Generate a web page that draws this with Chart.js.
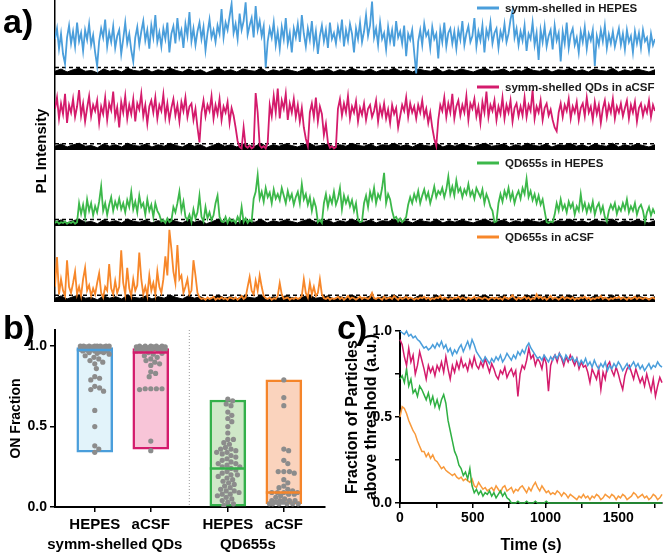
<!DOCTYPE html>
<html><head><meta charset="utf-8">
<script src="https://cdn.jsdelivr.net/npm/chart.js@4.4.1/dist/chart.umd.min.js"></script>
<style>
html,body{margin:0;padding:0;background:#fff;}
#wrap{position:relative;width:663px;height:559px;overflow:hidden;font-family:'Liberation Sans',Arial,sans-serif;background:#fff;}
canvas{position:absolute;}
.lab{position:absolute;font-weight:bold;font-size:34px;line-height:1;color:#000;}
#pl{position:absolute;left:40px;top:151px;transform:translate(-50%,-50%) rotate(-90deg);font-weight:bold;font-size:15px;white-space:nowrap;color:#000;}
</style></head><body>
<div id="wrap">
<canvas id="a1" width="663" height="75" style="left:0;top:0"></canvas>
<canvas id="a2" width="663" height="75" style="left:0;top:75px"></canvas>
<canvas id="a3" width="663" height="76" style="left:0;top:150px"></canvas>
<canvas id="a4" width="663" height="76" style="left:0;top:226px"></canvas>
<canvas id="b" width="335" height="254" style="left:0;top:305px"></canvas>
<canvas id="c" width="328" height="254" style="left:335px;top:305px"></canvas>
<div class="lab" style="left:3px;top:4px">a)</div>
<div class="lab" style="left:3px;top:310px">b)</div>
<div class="lab" style="left:337px;top:310px">c)</div>
<div id="pl">PL Intensity</div>
</div>
<script>
// ---------- DATA ----------
// Panel a: single-particle PL traces (relative intensity, 0 = bottom of sub-panel)
const traceLabels = ['symm-shelled in HEPES','symm-shelled QDs in aCSF','QD655s in HEPES','QD655s in aCSF'];
const blueTrace = [
0.48,0.62,0.35,0.55,0.28,0.15,0.5,0.66,0.42,0.58,0.38,0.7,0.45,0.56,0.32,0.6,0.47,0.68,0.4,0.53,
0.3,0.12,0.45,0.62,0.5,0.74,0.38,0.57,0.44,0.65,0.36,0.52,0.6,0.28,0.48,0.7,0.42,0.55,0.33,0.18,
0.5,0.64,0.4,0.58,0.72,0.46,0.6,0.35,0.66,0.5,0.8,0.44,0.57,0.38,0.62,0.48,0.7,0.3,0.55,0.65,
0.42,0.76,0.5,0.6,0.36,0.68,0.52,0.84,0.45,0.62,0.4,0.58,0.7,0.48,0.64,0.33,0.56,0.74,0.5,0.6,
0.44,0.66,0.55,0.88,0.5,0.7,0.6,0.78,0.95,0.56,0.68,0.48,0.82,0.6,0.72,0.97,0.54,0.66,0.76,0.5,
0.92,0.6,0.72,0.52,0.65,0.1,0.45,0.62,0.5,0.7,0.4,0.58,0.35,0.64,0.48,0.76,0.42,0.56,0.3,0.62,
0.5,0.68,0.44,0.8,0.55,0.38,0.62,0.47,0.72,0.4,0.58,0.28,0.52,0.66,0.45,0.6,0.36,0.7,0.48,0.56,
0.42,0.64,0.5,0.74,0.38,0.6,0.46,0.68,0.55,0.3,0.62,0.48,0.7,0.44,0.58,0.8,0.52,0.66,0.98,0.5,
0.62,0.4,0.7,0.48,0.56,0.34,0.64,0.45,0.6,0.38,0.72,0.5,0.58,0.42,0.66,0.25,0.55,0.47,0.6,0.3,
0.02,0.45,0.6,0.4,0.68,0.52,0.58,0.36,0.64,0.48,0.55,0.22,0.6,0.44,0.7,0.38,0.56,0.62,0.42,0.58,
0.35,0.6,0.47,0.72,0.4,0.55,0.65,0.44,0.52,0.76,0.38,0.58,0.46,0.66,0.3,0.6,0.5,0.7,0.42,0.56,
0.62,0.36,0.58,0.48,0.68,0.44,0.55,0.74,0.86,0.5,0.62,0.4,0.58,0.46,0.66,0.32,0.55,0.48,0.7,0.4,
0.56,0.2,0.6,0.44,0.65,0.38,0.52,0.6,0.34,0.66,0.46,0.56,0.18,0.58,0.42,0.7,0.36,0.54,0.62,0.4,
0.5,0.3,0.58,0.44,0.64,0.35,0.55,0.46,0.6,0.12,0.52,0.4,0.6,0.45,0.66,0.36,0.54,0.42,0.58,0.38,
0.5,0.62,0.4,0.55,0.34,0.6,0.44,0.52,0.3,0.58,0.42,0.56,0.36,0.6,0.45,0.5,0.32,0.55,0.4,0.48];
const pinkTrace = [
0.55,0.7,0.42,0.62,0.48,0.75,0.36,0.6,0.5,0.68,0.44,0.58,0.8,0.46,0.62,0.38,0.56,0.72,0.45,0.6,
0.52,0.66,0.36,0.58,0.48,0.7,0.4,0.62,0.53,0.78,0.44,0.57,0.3,0.64,0.5,0.72,0.42,0.6,0.48,0.68,
0.38,0.62,0.54,0.75,0.45,0.6,0.35,0.58,0.66,0.5,0.7,0.42,0.6,0.52,0.74,0.44,0.62,0.4,0.56,0.68,
0.46,0.6,0.38,0.64,0.52,0.7,0.44,0.58,0.62,0.4,0.55,0.3,0.1,0.5,0.66,0.45,0.6,0.52,0.72,0.42,
0.6,0.48,0.68,0.4,0.58,0.5,0.64,0.36,0.56,0.46,0.3,0.12,0.04,0.02,0.3,0.05,0.03,0.06,0.02,0.04,
0.76,0.5,0.06,0.03,0.05,0.02,0.1,0.6,0.45,0.72,0.5,0.82,0.42,0.66,0.55,0.75,0.4,0.62,0.5,0.68,
0.44,0.6,0.38,0.56,0.3,0.15,0.05,0.5,0.62,0.44,0.7,0.38,0.58,0.48,0.2,0.35,0.1,0.03,0.05,0.02,
0.04,0.55,0.68,0.46,0.62,0.5,0.72,0.42,0.58,0.5,0.65,0.38,0.56,0.47,0.62,0.4,0.55,0.6,0.44,0.52,
0.66,0.38,0.58,0.46,0.62,0.42,0.54,0.36,0.6,0.48,0.56,0.3,0.45,0.6,0.52,0.7,0.44,0.62,0.5,0.58,
0.42,0.6,0.5,0.66,0.45,0.55,0.36,0.5,0.3,0.15,0.05,0.4,0.6,0.52,0.7,0.44,0.62,0.5,0.75,0.42,
0.58,0.66,0.46,0.6,0.5,0.72,0.4,0.62,0.55,0.68,0.45,0.58,0.36,0.64,0.5,0.78,0.44,0.6,0.52,0.66,
0.4,0.58,0.48,0.7,0.42,0.6,0.5,0.66,0.38,0.56,0.62,0.45,0.58,0.46,0.7,0.44,0.6,0.52,0.8,0.42,
0.58,0.5,0.66,0.4,0.56,0.62,0.46,0.54,0.4,0.3,0.25,0.5,0.62,0.44,0.6,0.52,0.68,0.42,0.58,0.5,
0.64,0.4,0.56,0.62,0.45,0.7,0.5,0.58,0.4,0.64,0.48,0.6,0.36,0.55,0.66,0.44,0.6,0.5,0.68,0.42,
0.58,0.5,0.62,0.45,0.56,0.66,0.42,0.6,0.5,0.64,0.38,0.56,0.62,0.46,0.58,0.5,0.66,0.44,0.6,0.52];
const greenTrace = [
0.04,0.06,0.03,0.05,0.04,0.06,0.03,0.05,0.04,0.06,0.03,0.05,0.3,0.16,0.28,0.12,0.35,0.2,0.3,0.14,
0.26,0.18,0.32,0.52,0.2,0.3,0.15,0.28,0.38,0.2,0.32,0.24,0.36,0.22,0.3,0.18,0.34,0.25,0.45,0.22,
0.32,0.18,0.4,0.25,0.3,0.15,0.35,0.2,0.28,0.12,0.3,0.2,0.15,0.06,0.08,0.04,0.1,0.05,0.07,0.25,
0.18,0.3,0.45,0.2,0.32,0.12,0.08,0.15,0.05,0.22,0.1,0.18,0.4,0.12,0.06,0.25,0.1,0.18,0.08,0.14,
0.3,0.4,0.12,0.06,0.05,0.12,0.04,0.1,0.06,0.08,0.04,0.12,0.06,0.25,0.05,0.1,0.04,0.08,0.06,0.36,
0.45,0.67,0.36,0.45,0.32,0.5,0.38,0.44,0.3,0.48,0.36,0.42,0.34,0.5,0.4,0.3,0.46,0.35,0.42,0.28,
0.38,0.45,0.3,0.55,0.35,0.42,0.28,0.38,0.2,0.34,0.25,0.05,0.08,0.04,0.3,0.42,0.25,0.38,0.3,0.45,
0.28,0.36,0.5,0.22,0.4,0.3,0.38,0.26,0.34,0.2,0.3,0.08,0.05,0.06,0.3,0.4,0.25,0.45,0.35,0.5,
0.3,0.42,0.36,0.5,0.7,0.3,0.42,0.35,0.2,0.1,0.12,0.06,0.1,0.05,0.08,0.12,0.28,0.38,0.3,0.42,
0.34,0.46,0.3,0.4,0.48,0.36,0.44,0.3,0.4,0.52,0.38,0.46,0.42,0.5,0.38,0.48,0.65,0.42,0.52,0.4,
0.6,0.45,0.5,0.38,0.48,0.42,0.55,0.4,0.46,0.36,0.5,0.44,0.38,0.48,0.3,0.42,0.35,0.25,0.2,0.05,
0.06,0.3,0.42,0.32,0.46,0.38,0.5,0.35,0.44,0.3,0.4,0.46,0.36,0.5,0.42,0.62,0.38,0.46,0.34,0.42,
0.3,0.4,0.28,0.35,0.2,0.05,0.04,0.06,0.05,0.15,0.3,0.2,0.35,0.22,0.28,0.18,0.32,0.24,0.3,0.15,
0.26,0.2,0.42,0.22,0.3,0.18,0.28,0.2,0.32,0.15,0.25,0.3,0.18,0.26,0.12,0.06,0.2,0.28,0.22,0.3,
0.16,0.25,0.2,0.3,0.22,0.35,0.18,0.26,0.2,0.3,0.15,0.24,0.28,0.2,0.06,0.18,0.25,0.14,0.22,0.16];
const orangeTrace = [
0.2,0.59,0.1,0.3,0.15,0.08,0.55,0.2,0.12,0.25,0.4,0.1,0.2,0.08,0.3,0.45,0.15,0.22,0.08,0.18,
0.1,0.25,0.38,0.12,0.06,0.2,0.15,0.5,0.18,0.1,0.28,0.12,0.2,0.68,0.25,0.1,0.45,0.18,0.08,0.3,
0.15,0.22,0.65,0.3,0.1,0.2,0.08,0.35,0.15,0.25,0.1,0.4,0.2,0.12,0.3,0.6,0.35,0.95,0.7,0.4,
0.25,0.75,0.3,0.35,0.12,0.2,0.3,0.1,0.15,0.55,0.35,0.12,0.06,0.04,0.05,0.03,0.06,0.04,0.05,0.07,
0.03,0.05,0.04,0.06,0.04,0.05,0.03,0.06,0.05,0.04,0.06,0.03,0.05,0.08,0.04,0.06,0.2,0.33,0.15,0.1,
0.28,0.15,0.35,0.2,0.08,0.05,0.04,0.06,0.03,0.05,0.04,0.08,0.25,0.1,0.04,0.05,0.06,0.03,0.05,0.04,
0.06,0.04,0.05,0.08,0.3,0.12,0.06,0.25,0.1,0.2,0.08,0.12,0.3,0.1,0.05,0.04,0.06,0.03,0.05,0.04,
0.05,0.07,0.04,0.06,0.03,0.05,0.08,0.04,0.06,0.05,0.03,0.05,0.07,0.04,0.06,0.05,0.04,0.06,0.12,0.05,
0.04,0.06,0.05,0.03,0.07,0.04,0.05,0.06,0.04,0.08,0.05,0.03,0.06,0.04,0.05,0.07,0.04,0.06,0.05,0.03,
0.05,0.04,0.06,0.05,0.07,0.04,0.06,0.03,0.05,0.04,0.06,0.05,0.08,0.04,0.06,0.05,0.03,0.05,0.04,0.06,
0.05,0.07,0.04,0.06,0.05,0.03,0.06,0.04,0.05,0.07,0.04,0.06,0.05,0.04,0.06,0.05,0.03,0.05,0.06,0.04,
0.06,0.04,0.05,0.03,0.07,0.05,0.04,0.06,0.09,0.05,0.03,0.06,0.04,0.05,0.07,0.04,0.06,0.03,0.05,0.04,
0.1,0.05,0.07,0.04,0.06,0.03,0.05,0.08,0.04,0.06,0.05,0.03,0.05,0.07,0.04,0.06,0.05,0.04,0.06,0.03,
0.05,0.04,0.06,0.05,0.07,0.04,0.06,0.03,0.05,0.04,0.06,0.05,0.08,0.04,0.06,0.05,0.03,0.05,0.04,0.06,
0.05,0.07,0.04,0.06,0.05,0.03,0.06,0.04,0.05,0.07,0.04,0.06,0.05,0.04,0.06,0.05,0.03,0.05,0.06,0.04];
const backgroundTrace = [0.05,0.08,0.04,0.07,0.09,0.05,0.06,0.03,0.08,0.05,0.07,0.04,0.09,0.06,0.05,0.08,0.04,0.07,0.05,0.09,
0.06,0.04,0.08,0.05,0.07,0.03,0.06,0.09,0.05,0.07,0.04,0.08,0.06,0.05,0.09,0.04,0.07,0.05,0.08,0.06,
0.04,0.07,0.09,0.05,0.06,0.08,0.04,0.07,0.05,0.09,0.06,0.05,0.08,0.04,0.07,0.06,0.09,0.05,0.07,0.04,
0.08,0.06,0.05,0.09,0.04,0.07,0.05,0.08,0.06,0.04,0.07,0.09,0.05,0.06,0.08,0.04,0.07,0.05,0.09,0.06,
0.05,0.08,0.04,0.07,0.06,0.09,0.05,0.07,0.04,0.08,0.06,0.05,0.09,0.04,0.07,0.05,0.08,0.06,0.04,0.07];
const thresholds = [0.1,0.085,0.085,0.09];

// Panel b: ON fraction per particle
const bCategories = ['HEPES','aCSF','HEPES','aCSF'];
const bGroups = ['symm-shelled QDs','QD655s'];
const bMin = [0.34,0.36,0.0,0.02];
const bMax = [0.99,0.985,0.665,0.79];
const bMedian = [0.975,0.96,0.24,0.09];
const onSymmHEPES = [1,1,1,1,1,1,1,1,0.995,0.995,0.995,0.995,0.99,0.99,0.99,0.99,0.99,0.99,0.985,0.985,0.985,0.98,0.98,0.98,0.98,0.975,0.975,0.97,0.97,0.97,0.965,0.96,0.96,0.955,0.95,0.94,0.93,0.92,0.91,0.9,0.89,0.86,0.81,0.8,0.79,0.75,0.74,0.73,0.72,0.6,0.5,0.38,0.36,0.34];
const onSymmACSF = [1,1,1,1,1,0.995,0.995,0.995,0.99,0.99,0.99,0.99,0.985,0.985,0.98,0.98,0.98,0.975,0.97,0.97,0.96,0.955,0.95,0.94,0.93,0.92,0.91,0.9,0.89,0.88,0.84,0.83,0.81,0.735,0.735,0.735,0.735,0.73,0.41,0.35];
const onQDHEPES = [0.67,0.66,0.64,0.63,0.59,0.57,0.55,0.53,0.5,0.46,0.42,0.42,0.4,0.39,0.37,0.36,0.36,0.35,0.34,0.34,0.33,0.32,0.31,0.3,0.29,0.28,0.27,0.27,0.26,0.25,0.25,0.24,0.23,0.22,0.21,0.2,0.2,0.19,0.18,0.17,0.16,0.15,0.14,0.13,0.12,0.11,0.1,0.1,0.09,0.08,0.08,0.07,0.06,0.05,0.04,0.03,0.02,0.01];
const onQDACSF = [0.79,0.68,0.63,0.36,0.35,0.29,0.27,0.22,0.22,0.22,0.21,0.17,0.15,0.13,0.12,0.11,0.1,0.09,0.09,0.09,0.09,0.08,0.08,0.07,0.06,0.05,0.04,0.04,0.04,0.04,0.03,0.03,0.02,0.02,0.02,0.02,0.02,0.02];

// Panel c: fraction above threshold vs time (15 s steps)
const timeStep = 15;
const fracSymmHEPES = [1.0,0.99,0.98,1.0,0.97,0.98,0.96,0.97,0.95,0.94,0.92,
0.9,0.91,0.89,0.9,0.92,0.9,0.93,0.91,0.94,0.9,
0.92,0.88,0.9,0.86,0.89,0.87,0.9,0.92,0.88,0.91,
0.94,0.9,0.95,0.92,0.88,0.86,0.84,0.82,0.85,0.83,
0.81,0.84,0.82,0.85,0.83,0.86,0.82,0.84,0.87,0.85,
0.83,0.86,0.84,0.88,0.86,0.89,0.87,0.91,0.93,0.9,
0.88,0.86,0.84,0.85,0.83,0.86,0.84,0.82,0.85,0.83,
0.86,0.84,0.87,0.85,0.82,0.86,0.84,0.83,0.85,0.82,
0.84,0.8,0.83,0.81,0.84,0.8,0.82,0.79,0.83,0.8,
0.78,0.81,0.79,0.82,0.77,0.8,0.78,0.81,0.79,0.82,
0.8,0.77,0.79,0.81,0.78,0.8,0.82,0.79,0.81,0.78,
0.8,0.77,0.79,0.81,0.78,0.8,0.79,0.82,0.8,0.79];
const fracSymmACSF = [0.95,0.92,0.85,0.8,0.9,0.82,0.86,0.75,0.8,0.88,0.83,
0.78,0.72,0.8,0.76,0.79,0.74,0.8,0.77,0.82,0.76,
0.85,0.78,0.72,0.8,0.76,0.82,0.78,0.84,0.79,0.81,
0.77,0.83,0.79,0.85,0.8,0.78,0.82,0.79,0.84,0.8,
0.76,0.81,0.78,0.74,0.72,0.77,0.75,0.79,0.73,0.76,
0.78,0.74,0.77,0.62,0.75,0.8,0.78,0.83,0.9,0.84,
0.86,0.8,0.84,0.82,0.78,0.85,0.81,0.65,0.8,0.84,
0.86,0.82,0.87,0.84,0.8,0.85,0.82,0.86,0.83,0.8,
0.84,0.78,0.82,0.79,0.8,0.76,0.7,0.78,0.75,0.72,
0.78,0.66,0.76,0.72,0.8,0.82,0.77,0.74,0.79,0.75,
0.7,0.66,0.74,0.78,0.8,0.76,0.72,0.78,0.74,0.7,
0.73,0.68,0.75,0.7,0.65,0.72,0.62,0.68,0.73,0.7];
const fracQDHEPES = [0.72,0.74,0.7,0.78,0.68,0.72,0.64,0.66,0.62,0.68,0.66,
0.63,0.6,0.64,0.58,0.62,0.56,0.6,0.55,0.6,0.63,
0.58,0.48,0.42,0.36,0.3,0.27,0.22,0.2,0.16,0.18,
0.14,0.2,0.1,0.06,0.08,0.05,0.07,0.04,0.06,0.05,
0.07,0.04,0.06,0.03,0.05,0.07,0.04,0.06,0.03,0.02,
0.0,0.0,0.0,0.01,0.0,0.0,0.0,0.01,0.0,0.0,
0.0,0.01,0.0,0.0,0.0,0.0,0.01,0.0,0.0,0.0,
0.0,0.0,0.0,0.0,0.0,0.0,0.0,0.0,0.0,0.0,
0.0,0.0,0.0,0.0,0.0,0.0,0.0,0.0,0.0,0.0,
0.0,0.0,0.0,0.0,0.0,0.0,0.0,0.0,0.0,0.0,
0.0,0.0,0.0,0.0,0.0,0.0,0.0,0.0,0.0,0.0,
0.0,0.0,0.0,0.0,0.0,0.0,0.0,0.0,0.0,0.0];
const fracQDACSF = [0.5,0.56,0.55,0.52,0.48,0.45,0.42,0.4,0.36,0.33,0.3,
0.3,0.27,0.29,0.26,0.28,0.25,0.24,0.22,0.2,0.21,
0.19,0.18,0.17,0.16,0.17,0.15,0.14,0.15,0.13,0.14,
0.13,0.12,0.14,0.1,0.09,0.12,0.1,0.08,0.09,0.07,
0.08,0.09,0.07,0.1,0.08,0.06,0.09,0.1,0.07,0.08,
0.09,0.06,0.08,0.07,0.09,0.1,0.08,0.06,0.09,0.07,
0.1,0.12,0.09,0.07,0.1,0.08,0.06,0.07,0.05,0.06,
0.05,0.07,0.06,0.04,0.06,0.05,0.03,0.05,0.04,0.03,
0.02,0.04,0.03,0.05,0.03,0.04,0.02,0.04,0.03,0.05,
0.04,0.02,0.03,0.05,0.04,0.03,0.05,0.04,0.02,0.04,
0.03,0.05,0.04,0.02,0.03,0.04,0.06,0.05,0.03,0.04,
0.05,0.03,0.04,0.02,0.03,0.05,0.04,0.02,0.03,0.05];
const cXTicks = [0,500,1000,1500];
const cYTicks = [0,0.5,1.0];

// ---------- STYLE ----------
const FONT = "'Liberation Sans', Arial, sans-serif";
const traceColors = ['#4a9edb','#d41b6c','#3cb84a','#f7872a'];
const lineColorsC = ['#4a9edb','#d41b6c','#2fb043','#f89a3c'];
const boxFill = ['#e2f3fa','#f8c5d8','#cfe8c8','#fad3bd'];
const boxLine = ['#4a9edb','#d41b6c','#33b04a','#f5852a'];
const bPos = [1,2,3.375,4.375];  // category positions (layout)
Chart.defaults.font.family = FONT;
Chart.defaults.color = '#000';

// ---------- Panel a ----------
const traceLegend = {
  id:'traceLegend',
  afterDraw(chart, args, opts){
    const ctx = chart.ctx, ds = chart.data.datasets[0];
    ctx.save();
    ctx.strokeStyle = ds.borderColor; ctx.lineWidth = 3;
    ctx.beginPath(); ctx.moveTo(opts.x, opts.y); ctx.lineTo(opts.x+22, opts.y); ctx.stroke();
    ctx.fillStyle = '#1a1a1a'; ctx.font = "bold 11.5px " + FONT; ctx.textBaseline = 'middle';
    ctx.fillText(ds.label, opts.x+28, opts.y+0.5);
    ctx.restore();
  }
};
const traces = [blueTrace, pinkTrace, greenTrace, orangeTrace];
const legendY = [8,12,13,11];
['a1','a2','a3','a4'].forEach((id, k) => {
  const vals = traces[k];
  const span = vals.length - 1;
  new Chart(document.getElementById(id), {
    type:'line',
    data:{datasets:[
      {label:traceLabels[k], data:vals.map((v,i)=>({x:i,y:v})), borderColor:traceColors[k], borderWidth:1.8, pointRadius:0, tension:0, order:0},
      {label:'threshold', data:[{x:0,y:thresholds[k]},{x:span,y:thresholds[k]}], borderColor:'#000', borderWidth:1.5, borderDash:[4,3], pointRadius:0, order:1},
      {label:'background', data:backgroundTrace.map((v,i)=>({x:i*span/(backgroundTrace.length-1),y:v})), borderColor:'#000', backgroundColor:'#000', borderWidth:1, fill:'origin', pointRadius:0, order:2}
    ]},
    options:{
      responsive:false, animation:false, events:[],
      layout:{padding:{left:55,right:8,top:0,bottom:0}},
      plugins:{legend:{display:false}, tooltip:{enabled:false}, traceLegend:{x:477,y:legendY[k]}},
      scales:{
        x:{type:'linear', min:0, max:span, display:false},
        y:{min:0, max:1, ticks:{display:false}, grid:{display:false, drawTicks:false},
           border:{display:true, color:'#000', width:1.5}, afterFit(s){ s.width = 0; }}
      }
    },
    plugins:[traceLegend]
  });
});

// ---------- Panel b ----------
// beeswarm layout: pixel offsets limited to the box half-width, overlap allowed when full
function swarm(vals, center, pxX, pxY, diam, maxOff){
  const placed = [], out = [];
  const sorted = vals.slice().sort((a,b)=>b-a);
  for (const v of sorted){
    const py = v*pxY;
    let chosen = null, best = -1, bestOff = 0;
    for (let k=0; ; k++){
      const off = (k%2 ? 1 : -1) * Math.ceil(k/2) * 0.8;
      if (Math.abs(off) > maxOff) break;
      let minD = Infinity;
      for (const p of placed){
        const dx = p.px - off, dy = p.py - py;
        minD = Math.min(minD, Math.sqrt(dx*dx + dy*dy));
      }
      if (minD >= diam){ chosen = off; break; }
      if (minD > best){ best = minD; bestOff = off; }
    }
    if (chosen === null) chosen = bestOff;
    placed.push({px:chosen, py:py});
    out.push({x:center + chosen/pxX, y:v});
  }
  return out;
}
const onSets = [onSymmHEPES, onSymmACSF, onQDHEPES, onQDACSF];
const bPlugin = {
  id:'bExtras',
  beforeDatasetsDraw(chart){
    const {ctx, chartArea, scales} = chart;
    const xs = scales.x.getPixelForValue((bPos[1]+bPos[2])/2);
    ctx.save(); ctx.strokeStyle = '#9a9a9a'; ctx.lineWidth = 1; ctx.setLineDash([1,2]);
    ctx.beginPath(); ctx.moveTo(xs, chartArea.top); ctx.lineTo(xs, chartArea.bottom); ctx.stroke(); ctx.restore();
  },
  afterDatasetsDraw(chart){
    const {ctx, scales} = chart;
    ctx.save(); ctx.lineWidth = 2.5;
    bMedian.forEach((m,i)=>{
      const x = scales.x.getPixelForValue(bPos[i]), y = scales.y.getPixelForValue(m);
      ctx.strokeStyle = boxLine[i];
      ctx.beginPath(); ctx.moveTo(x-18, y); ctx.lineTo(x+18, y); ctx.stroke();
    });
    ctx.restore();
  },
  afterDraw(chart){
    const {ctx, chartArea, scales} = chart;
    ctx.save(); ctx.fillStyle = '#000'; ctx.font = "bold 15px " + FONT; ctx.textAlign = 'center'; ctx.textBaseline = 'middle';
    bGroups.forEach((g,i)=>{
      const x = (scales.x.getPixelForValue(bPos[2*i]) + scales.x.getPixelForValue(bPos[2*i+1]))/2 - 8;
      ctx.fillText(g, x, chartArea.bottom + 38);
    });
    ctx.restore();
  }
};
const bDatasets = [{
  type:'bar', label:'range',
  data:bPos.map((p,i)=>({x:p, y:[bMin[i], bMax[i]]})),
  backgroundColor:boxFill, borderColor:boxLine, borderWidth:2.5, borderSkipped:false,
  barThickness:36, grouped:false, order:2
}];
onSets.forEach((vals,i)=>{
  bDatasets.push({type:'scatter', label:bCategories[i], data:swarm(vals, bPos[i], 56, 161, 5.0, 15),
    pointRadius:2.6, pointBackgroundColor:'#8c8c8c', pointBorderWidth:0, order:1});
});
new Chart(document.getElementById('b'), {
  data:{datasets:bDatasets},
  options:{
    responsive:false, animation:false, events:[],
    layout:{padding:{top:25,right:10,left:0,bottom:0}},
    plugins:{legend:{display:false}, tooltip:{enabled:false}},
    scales:{
      x:{type:'linear', min:0.29, max:5.11, offset:false,
         afterBuildTicks(s){ s.ticks = bPos.map(v=>({value:v})); },
         ticks:{callback:(v,i)=>bCategories[i], font:{size:15, weight:'bold'}, color:'#000', padding:4, maxRotation:0, autoSkip:false},
         grid:{drawOnChartArea:false, offset:false, color:'#000', lineWidth:1.5, tickLength:5},
         border:{color:'#000', width:2},
         afterFit(s){ s.height = 52; }},
      y:{min:0, max:1.1,
         afterBuildTicks(s){ s.ticks = [0,0.5,1.0].map(v=>({value:v})); },
         ticks:{callback:v=>v.toFixed(1), font:{size:14, weight:'bold'}, color:'#000', padding:3},
         grid:{drawOnChartArea:false, color:'#000', lineWidth:1.5, tickLength:5},
         border:{color:'#000', width:2},
         title:{display:true, text:'ON Fraction', font:{size:14, weight:'bold'}, color:'#000', padding:{top:8,bottom:0}},
         afterFit(s){ s.width = 55; }}
    }
  },
  plugins:[bPlugin]
});

// ---------- Panel c ----------
const cSeries = [fracSymmHEPES, fracSymmACSF, fracQDHEPES, fracQDACSF];
new Chart(document.getElementById('c'), {
  type:'line',
  data:{datasets:cSeries.map((s,k)=>({
    label:traceLabels[k], data:s.map((v,i)=>({x:i*timeStep, y:v})),
    borderColor:lineColorsC[k], borderWidth:1.5, pointRadius:0, tension:0, clip:false, order:k
  }))},
  options:{
    responsive:false, animation:false, events:[],
    layout:{padding:{top:26,right:1,left:0,bottom:0}},
    plugins:{legend:{display:false}, tooltip:{enabled:false}},
    scales:{
      x:{type:'linear', min:0, max:1800,
         afterBuildTicks(s){ s.ticks = [0,250,500,750,1000,1250,1500,1750].map(v=>({value:v})); },
         ticks:{callback:v=>cXTicks.includes(v) ? String(v) : '', font:{size:14, weight:'bold'}, color:'#000', padding:2, maxRotation:0, autoSkip:false},
         grid:{drawOnChartArea:false, color:'#000', lineWidth:1.5, tickLength:5},
         border:{color:'#000', width:2},
         title:{display:true, text:'Time (s)', font:{size:16, weight:'bold'}, color:'#000', padding:{top:2,bottom:4}},
         afterFit(s){ s.height = 56; }},
      y:{min:0, max:1,
         afterBuildTicks(s){ s.ticks = [0,0.25,0.5,0.75,1.0].map(v=>({value:v})); },
         ticks:{callback:v=>cYTicks.includes(v) ? v.toFixed(1) : '', font:{size:14, weight:'bold'}, color:'#000', padding:3},
         grid:{drawOnChartArea:false, color:'#000', lineWidth:1.5, tickLength:5},
         border:{color:'#000', width:2},
         title:{display:true, text:['Fraction of Particles','above threshold (a.u.)'], font:{size:16, weight:'bold'}, color:'#000', padding:{top:8,bottom:0}},
         afterFit(s){ s.width = 65; }}
    }
  }
});
</script>
</body></html>
